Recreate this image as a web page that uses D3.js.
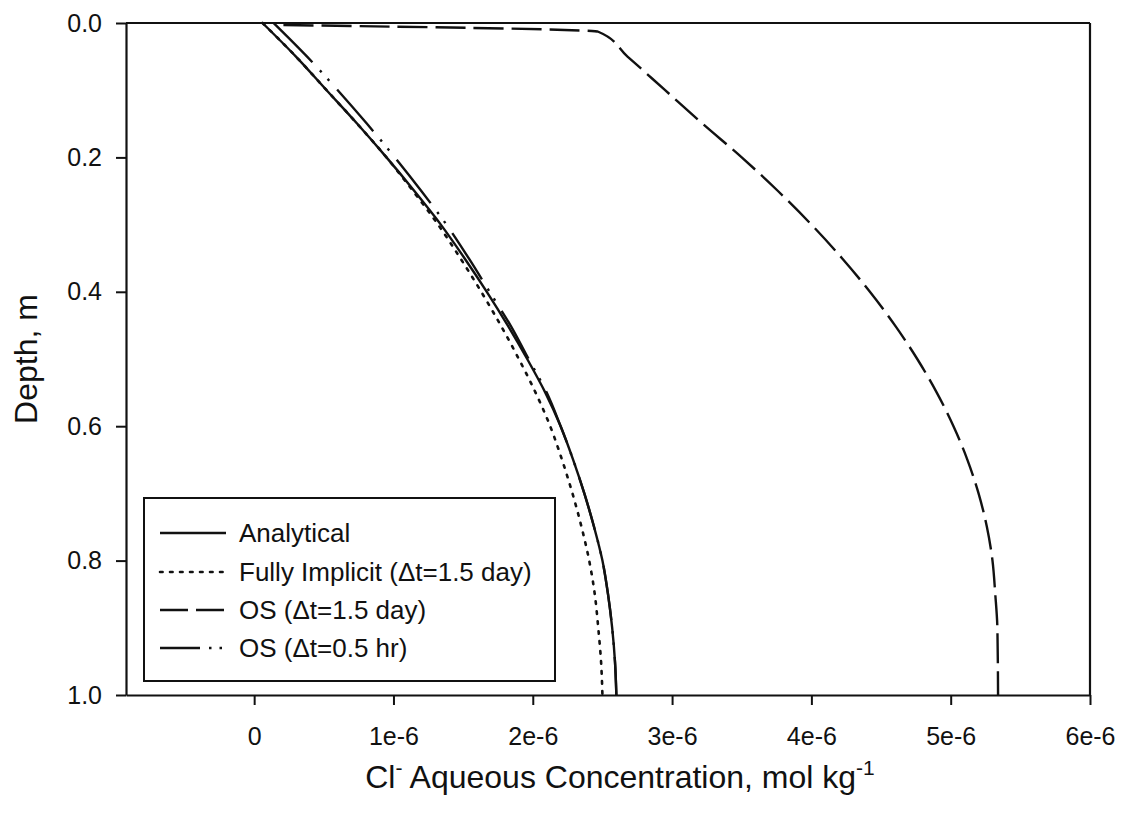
<!DOCTYPE html>
<html>
<head>
<meta charset="utf-8">
<script src="https://cdn.jsdelivr.net/npm/d3@7"></script>
<style>
  html, body { margin: 0; padding: 0; background: #fff; }
  svg { display: block; font-family: Arial, "Liberation Sans", Helvetica, sans-serif; }
</style>
</head>
<body>
<svg id="chart" width="1122" height="813"></svg>
<script>
// ---- data (concentration in 1e-6 mol/kg, depth in m) ----
const xTickValues = [0, 1e-6, 2e-6, 3e-6, 4e-6, 5e-6, 6e-6];
const xTickLabels = ["0", "1e-6", "2e-6", "3e-6", "4e-6", "5e-6", "6e-6"];
const yTickValues = [0, 0.2, 0.4, 0.6, 0.8, 1.0];
const yTickLabels = ["0.0", "0.2", "0.4", "0.6", "0.8", "1.0"];

const seriesNames = ["Analytical", "Fully Implicit (\u0394t=1.5 day)", "OS (\u0394t=1.5 day)", "OS (\u0394t=0.5 hr)"];

const depthGrid = [0, 0.05, 0.1, 0.15, 0.2, 0.25, 0.3, 0.35, 0.4, 0.45, 0.5, 0.55, 0.6, 0.65, 0.7, 0.75, 0.8, 0.85, 0.9, 0.95, 1.0];
const analyticalConc = [0.06, 0.30, 0.52, 0.74, 0.95, 1.15, 1.34, 1.51, 1.67, 1.82, 1.96, 2.09, 2.20, 2.29, 2.37, 2.44, 2.50, 2.54, 2.57, 2.59, 2.60];
const implicitConc   = [0.06, 0.30, 0.52, 0.74, 0.95, 1.14, 1.32, 1.48, 1.63, 1.77, 1.90, 2.02, 2.125, 2.21, 2.285, 2.35, 2.405, 2.445, 2.47, 2.49, 2.50];
const osHourConc     = [0.14, 0.38, 0.60, 0.81, 1.01, 1.20, 1.38, 1.54, 1.69, 1.84, 1.97, 2.10, 2.20, 2.29, 2.37, 2.44, 2.50, 2.54, 2.57, 2.59, 2.60];

const osDayDepth = [0.003, 0.013, 0.05, 0.1, 0.15, 0.2, 0.25, 0.3, 0.35, 0.4, 0.45, 0.5, 0.55, 0.6, 0.65, 0.7, 0.75, 0.8, 0.85, 0.9, 1.0];
const osDayConc  = [0.21, 2.47, 2.68, 2.95, 3.22, 3.50, 3.76, 4.00, 4.22, 4.42, 4.60, 4.76, 4.90, 5.02, 5.12, 5.20, 5.26, 5.30, 5.32, 5.335, 5.34];

const concUnit = 1e-6;

// ---- layout ----
const svg = d3.select("#chart");
const pLeft = 126, pRight = 1090, pTop = 23, pBottom = 695;

const x = d3.scaleLinear().domain([-0.92e-6, 6e-6]).range([pLeft, pRight]);
const y = d3.scaleLinear().domain([0, 1]).range([pTop, pBottom]);

const ink = "#111";

// axes
const xAxis = d3.axisBottom(x).tickValues(xTickValues)
  .tickFormat((d, i) => xTickLabels[i]).tickSizeInner(10).tickSizeOuter(0).tickPadding(22);
const yAxis = d3.axisLeft(y).tickValues(yTickValues)
  .tickFormat((d, i) => yTickLabels[i]).tickSizeInner(10).tickSizeOuter(0).tickPadding(14);

const gx = svg.append("g").attr("transform", `translate(0,${pBottom})`).call(xAxis);
const gy = svg.append("g").attr("transform", `translate(${pLeft},0)`).call(yAxis);
[gx, gy].forEach(g => {
  g.select(".domain").attr("stroke", ink).attr("stroke-width", 2.2);
  g.selectAll(".tick line").attr("stroke", ink).attr("stroke-width", 2);
  g.selectAll(".tick text").attr("fill", ink).attr("font-size", 25)
    .attr("font-family", "Arial, 'Liberation Sans', Helvetica, sans-serif");
});
gx.selectAll(".tick text").attr("dy", "0.71em");

// frame top & right
svg.append("line").attr("x1", pLeft).attr("x2", pRight).attr("y1", pTop).attr("y2", pTop)
  .attr("stroke", ink).attr("stroke-width", 2.2);
svg.append("line").attr("x1", pRight).attr("x2", pRight).attr("y1", pTop).attr("y2", pBottom)
  .attr("stroke", ink).attr("stroke-width", 2.2);

// axis titles
svg.append("text")
  .attr("transform", `translate(37,${(pTop + pBottom) / 2}) rotate(-90)`)
  .attr("text-anchor", "middle").attr("font-size", 32).attr("fill", ink)
  .text("Depth, m");

const xt = svg.append("text").attr("x", 620).attr("y", 788)
  .attr("text-anchor", "middle").attr("font-size", 32).attr("fill", ink);
xt.append("tspan").text("Cl");
xt.append("tspan").attr("font-size", 21).attr("dy", -13).text("-");
xt.append("tspan").attr("dy", 13).text(" Aqueous Concentration, mol kg");
xt.append("tspan").attr("font-size", 21).attr("dy", -13).text("-1");

// series
const styles = [
  { dash: null, legendDash: null, width: 2.4 },
  { dash: "2.6,7.4", legendDash: "2.6,7.4", width: 2.6, cap: "round" },
  { dash: "30,8", legendDash: "28,8", width: 2.4 },
  { dash: "55,11,2.5,9,2.5,12", legendDash: "40,9,2.5,8,2.5,9", width: 2.4 }
];

const series = [
  { name: seriesNames[0], depth: depthGrid, conc: analyticalConc, style: styles[0] },
  { name: seriesNames[1], depth: depthGrid, conc: implicitConc, style: styles[1] },
  { name: seriesNames[2], depth: osDayDepth, conc: osDayConc, style: styles[2] },
  { name: seriesNames[3], depth: depthGrid, conc: osHourConc, style: styles[3] }
];

const line = d3.line()
  .x(d => x(d[0] * concUnit))
  .y(d => y(d[1]))
  .curve(d3.curveMonotoneY);

const plot = svg.append("g");
series.forEach(s => {
  const pts = s.depth.map((dep, i) => [s.conc[i], dep]);
  plot.append("path").datum(pts)
    .attr("d", line)
    .attr("fill", "none")
    .attr("stroke", ink)
    .attr("stroke-width", s.style.width)
    .attr("stroke-dasharray", s.style.dash)
    .attr("stroke-linecap", s.style.cap || "butt");
});

// legend
const lg = svg.append("g");
const lgX = 144, lgY = 498, lgW = 411, lgH = 183;
lg.append("rect").attr("x", lgX).attr("y", lgY).attr("width", lgW).attr("height", lgH)
  .attr("fill", "#fff").attr("stroke", ink).attr("stroke-width", 2);
const rowY = [533, 572, 610, 648];
series.forEach((s, i) => {
  lg.append("line").attr("x1", 160).attr("x2", 226).attr("y1", rowY[i]).attr("y2", rowY[i])
    .attr("stroke", ink).attr("stroke-width", s.style.width)
    .attr("stroke-dasharray", s.style.legendDash)
    .attr("stroke-linecap", s.style.cap || "butt");
  lg.append("text").attr("x", 239).attr("y", rowY[i]).attr("dy", "0.35em")
    .attr("font-size", 26).attr("fill", ink).text(s.name);
});
</script>
</body>
</html>
